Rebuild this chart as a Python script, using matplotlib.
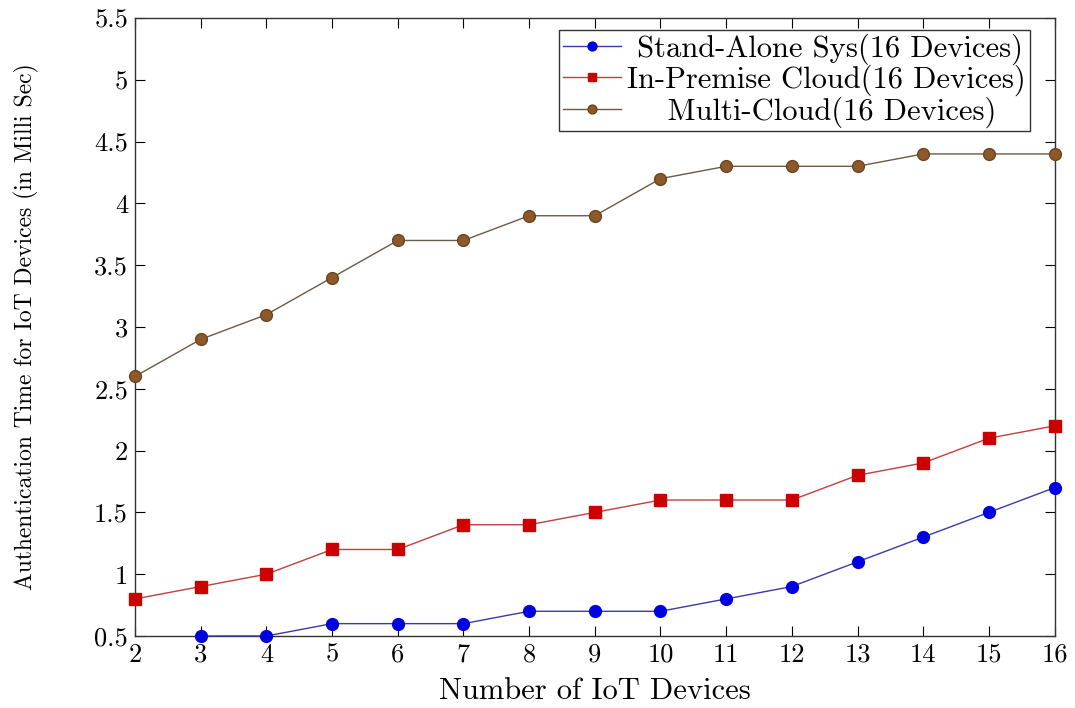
import matplotlib
matplotlib.use("Agg")
import matplotlib.pyplot as plt

plt.rcParams['font.family'] = 'serif'
plt.rcParams['font.serif'] = ['cmr10', 'DejaVu Serif']
plt.rcParams['axes.formatter.use_mathtext'] = True

# data
x_all = [2, 3, 4, 5, 6, 7, 8, 9, 10, 11, 12, 13, 14, 15, 16]
x_stand = [3, 4, 5, 6, 7, 8, 9, 10, 11, 12, 13, 14, 15, 16]
stand_alone = [0.5, 0.5, 0.6, 0.6, 0.6, 0.7, 0.7, 0.7, 0.8, 0.9, 1.1, 1.3, 1.5, 1.7]
in_premise = [0.8, 0.9, 1.0, 1.2, 1.2, 1.4, 1.4, 1.5, 1.6, 1.6, 1.6, 1.8, 1.9, 2.1, 2.2]
multi_cloud = [2.6, 2.9, 3.1, 3.4, 3.7, 3.7, 3.9, 3.9, 4.2, 4.3, 4.3, 4.3, 4.4, 4.4, 4.4]
y_ticks = [0.5, 1, 1.5, 2, 2.5, 3, 3.5, 4, 4.5, 5, 5.5]
y_labels = ['0.5', '1', '1.5', '2', '2.5', '3', '3.5', '4', '4.5', '5', '5.5']

fig = plt.figure(figsize=(10.75, 7.08), dpi=100)
ax = fig.add_axes([0.1256, 0.1017, 0.8554, 0.8729])

# leading spaces mimic the centred legend entries of pgfplots
ax.plot(x_stand, stand_alone, color='#3a3aa8', lw=1, marker='o', ms=8.5,
        mfc='#0000e0', mec='#0000e0', clip_on=False, zorder=3,
        label=' Stand-Alone Sys(16 Devices)')
ax.plot(x_all, in_premise, color='#c04040', lw=1, marker='s', ms=8,
        mfc='#cc0000', mec='#cc0000', clip_on=False, zorder=3,
        label='In-Premise Cloud(16 Devices)')
ax.plot(x_all, multi_cloud, color='#6b5a45', lw=1, marker='o', ms=8.5,
        mfc='#8c5a2a', mec='#6b4420', clip_on=False, zorder=3,
        label='    Multi-Cloud(16 Devices)')

ax.set_xlim(2, 16)
ax.set_ylim(0.5, 5.5)
ax.set_xticks(x_all)
ax.set_xticklabels([str(v) for v in x_all])
ax.set_yticks(y_ticks)
ax.set_yticklabels(y_labels)
ax.tick_params(direction='in', top=True, right=True, labelsize=19, length=7, width=0.8, pad=5)
for s in ax.spines.values():
    s.set_linewidth(1.0)
    s.set_color('#333333')

ax.set_xlabel('Number of IoT Devices', fontsize=22, labelpad=8)
ax.set_ylabel('Authentication Time for IoT Devices (in Milli Sec)', fontsize=17, labelpad=40)

leg = ax.legend(loc='upper right', bbox_to_anchor=(0.973, 0.981), fontsize=22,
                fancybox=False, edgecolor='black', handlelength=1.9,
                handletextpad=0.2, borderpad=0.12, labelspacing=0.0,
                markerscale=0.75, borderaxespad=0)
leg.get_frame().set_linewidth(1.0)

fig.savefig('out.png', dpi=100)
